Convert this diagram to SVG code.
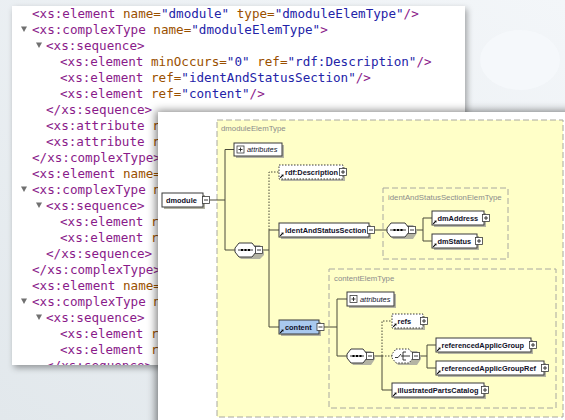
<svg xmlns="http://www.w3.org/2000/svg" width="565" height="420" viewBox="0 0 565 420">
<defs>
<linearGradient id="bg" x1="1" y1="0" x2="0" y2="1">
<stop offset="0" stop-color="#f3f6f9"/>
<stop offset="1" stop-color="#e2e8ec"/>
</linearGradient>
<filter id="sh1" x="-10%" y="-10%" width="120%" height="120%"><feDropShadow dx="2" dy="3" stdDeviation="3" flood-color="#000" flood-opacity="0.35"/></filter>
<filter id="sh2" x="-10%" y="-10%" width="120%" height="120%"><feDropShadow dx="-2" dy="-1" stdDeviation="4" flood-color="#000" flood-opacity="0.5"/></filter>
<clipPath id="codeclip"><rect x="12" y="6" width="453" height="359"/></clipPath>
<g id="ra"><path d="M1.2 -1.2L3.6 -3.6" stroke="#000" stroke-width="1.1" fill="none"/><polygon points="4.6,-4.6 2.2,-4.3 4.3,-2.2" fill="#000"/></g>
<style>
.code{font-family:"DejaVu Sans Mono","Liberation Mono",monospace;font-size:12.6px;white-space:pre}
.t{fill:#8a1a8a}.a{fill:#9a5000}.v{fill:#2323a8}
.tri{fill:#707070}
.type{fill:#ffffc8;stroke:#a8a8a0;stroke-width:1;stroke-dasharray:6,3}
.tlabel{font-family:"Liberation Sans",Arial,sans-serif;font-size:7.8px;fill:#8c8c8c}
.el{fill:#fff;stroke:#3a3a3a;stroke-width:1}
.opt{fill:#fff;stroke:#3a3a3a;stroke-width:1;stroke-dasharray:1.5,1.5}
.shd{fill:#b4b4a4}
.lbl{font-family:"Liberation Sans",Arial,sans-serif;font-size:7.4px;font-weight:bold;fill:#101028}
.it{font-family:"Liberation Sans",Arial,sans-serif;font-size:7.4px;font-style:italic;fill:#101028}
.ic{fill:#fff;stroke:#3a3a3a;stroke-width:0.8}
.icl{stroke:#222;stroke-width:0.9;fill:none}
.con{fill:none;stroke:#4a4a3a;stroke-width:1}
.dot{fill:none;stroke:#4a4a3a;stroke-width:1;stroke-dasharray:1.5,1.5}
.comp{fill:#fff;stroke:#3a3a3a;stroke-width:1}
.compo{fill:#fff;stroke:#3a3a3a;stroke-width:1;stroke-dasharray:1.5,1.5}
</style>
</defs>
<rect width="565" height="420" fill="url(#bg)"/>
<ellipse cx="520" cy="60" rx="40" ry="30" fill="#f7fafc" opacity="0.7"/>
<path d="M250 420 L330 330" stroke="#f0f4f6" stroke-width="6" opacity="0.8"/>

<g id="code-panel">
<rect x="12" y="6" width="453" height="359" fill="#fff" filter="url(#sh1)"/>
<g clip-path="url(#codeclip)" class="code">
<text x="32" y="18"><tspan class="t">&lt;xs:element</tspan><tspan class="a"> name=</tspan><tspan class="v">"dmodule"</tspan><tspan class="a"> type=</tspan><tspan class="v">"dmoduleElemType"</tspan><tspan class="t">/&gt;</tspan></text>
<polygon class="tri" points="21,26.5 27,26.5 24,32"/>
<text x="32" y="34"><tspan class="t">&lt;xs:complexType</tspan><tspan class="a"> name=</tspan><tspan class="v">"dmoduleElemType"</tspan><tspan class="t">&gt;</tspan></text>
<polygon class="tri" points="36,42.5 42,42.5 39,48"/>
<text x="46" y="50" class="t">&lt;xs:sequence&gt;</text>
<text x="60" y="66"><tspan class="t">&lt;xs:element</tspan><tspan class="a"> minOccurs=</tspan><tspan class="v">"0"</tspan><tspan class="a"> ref=</tspan><tspan class="v">"rdf:Description"</tspan><tspan class="t">/&gt;</tspan></text>
<text x="60" y="82"><tspan class="t">&lt;xs:element</tspan><tspan class="a"> ref=</tspan><tspan class="v">"identAndStatusSection"</tspan><tspan class="t">/&gt;</tspan></text>
<text x="60" y="98"><tspan class="t">&lt;xs:element</tspan><tspan class="a"> ref=</tspan><tspan class="v">"content"</tspan><tspan class="t">/&gt;</tspan></text>
<text x="46" y="114" class="t">&lt;/xs:sequence&gt;</text>
<text x="46" y="130"><tspan class="t">&lt;xs:attribute</tspan><tspan class="a"> r</tspan></text>
<text x="46" y="146"><tspan class="t">&lt;xs:attribute</tspan><tspan class="a"> r</tspan></text>
<text x="32" y="162" class="t">&lt;/xs:complexType&gt;</text>
<text x="32" y="178"><tspan class="t">&lt;xs:element</tspan><tspan class="a"> name=</tspan></text>
<polygon class="tri" points="21,186.5 27,186.5 24,192"/>
<text x="32" y="194"><tspan class="t">&lt;xs:complexType</tspan><tspan class="a"> n</tspan></text>
<polygon class="tri" points="36,202.5 42,202.5 39,208"/>
<text x="46" y="210" class="t">&lt;xs:sequence&gt;</text>
<text x="60" y="226"><tspan class="t">&lt;xs:element</tspan><tspan class="a"> r</tspan></text>
<text x="60" y="242"><tspan class="t">&lt;xs:element</tspan><tspan class="a"> r</tspan></text>
<text x="46" y="258" class="t">&lt;/xs:sequence&gt;</text>
<text x="32" y="274" class="t">&lt;/xs:complexType&gt;</text>
<text x="32" y="290"><tspan class="t">&lt;xs:element</tspan><tspan class="a"> name=</tspan></text>
<polygon class="tri" points="21,298.5 27,298.5 24,304"/>
<text x="32" y="306"><tspan class="t">&lt;xs:complexType</tspan><tspan class="a"> n</tspan></text>
<polygon class="tri" points="36,314.5 42,314.5 39,320"/>
<text x="46" y="322" class="t">&lt;xs:sequence&gt;</text>
<text x="60" y="338"><tspan class="t">&lt;xs:element</tspan><tspan class="a"> r</tspan></text>
<text x="60" y="354"><tspan class="t">&lt;xs:element</tspan><tspan class="a"> r</tspan></text>
<text x="46" y="370" class="t">&lt;/xs:sequence&gt;</text>
</g>
</g>

<g id="diagram-panel">
<rect x="158" y="112" width="420" height="320" fill="#fff" filter="url(#sh2)"/>
</g>

<g id="dmoduleElemType">
<rect class="type" x="217" y="120" width="346" height="297"/>
<text class="tlabel" x="221" y="131">dmoduleElemType</text>
</g>
<g id="identAndStatusSectionElemType">
<rect class="type" x="383" y="188" width="125" height="71"/>
<text class="tlabel" x="388" y="199.5">identAndStatusSectionElemType</text>
</g>
<g id="contentElemType">
<rect class="type" x="329" y="269" width="227" height="139"/>
<text class="tlabel" x="334" y="280.5">contentElemType</text>
</g>

<g id="connectors">
<path class="con" d="M209.5 200H225M225 149.5V250M225 149.5H234M225 250H235"/>
<path class="con" d="M262.5 250H269M269 230V327M269 230H279M269 327H279"/>
<path class="dot" d="M269 230V172H279"/>
<path class="con" d="M374.5 230H387M415.5 230H423M423 218V241M423 218H432M423 241H432"/>
<path class="con" d="M324 327H337M337 299V356M337 299H347M337 356H347"/>
<path class="con" d="M373.5 356H382M382 356V390H392"/>
<path class="dot" d="M382 356V321H392M382 356H392"/>
<path class="con" d="M419.5 356H427M427 345V368M427 345H436M427 368H436"/>
</g>

<g id="dmodule">
<rect class="shd" x="164" y="195" width="41" height="14"/>
<rect class="el" x="162" y="193" width="41" height="14"/>
<text class="lbl" x="166" y="202.6">dmodule</text>
<rect class="ic" x="202.5" y="196.5" width="7" height="7"/><path class="icl" d="M204 200H208"/>
</g>

<g id="attributes1">
<rect class="shd" x="236" y="145" width="48" height="13"/>
<rect class="el" x="234" y="143" width="48" height="13"/>
<rect class="ic" x="237" y="146" width="7" height="7"/><path class="icl" d="M238.5 149.5H242.5M240.5 147.5V151.5"/>
<text class="it" x="247" y="152.2">attributes</text>
</g>

<g id="sequence1">
<path class="shd" d="M241 245H260L264 252V255L260 259H241L237 255V252Z"/>
<path class="comp" d="M239 243H252L256 248V252L252 257H239L235 252V248Z"/>
<path class="icl" d="M238 250H253"/><rect x="241" y="249" width="2" height="2" fill="#000"/><rect x="244.5" y="249" width="2" height="2" fill="#000"/><rect x="248" y="249" width="2" height="2" fill="#000"/>
<rect class="ic" x="255.5" y="246.5" width="7" height="7"/><path class="icl" d="M257 250H261"/>
</g>

<g id="rdfDescription">
<rect class="shd" x="281" y="167" width="64" height="14"/>
<rect class="opt" x="279" y="165" width="64" height="14"/>
<text class="lbl" x="285" y="174.6">rdf:Description</text>
<use href="#ra" x="279" y="179"/>
<rect class="ic" x="339.5" y="168.5" width="7" height="7"/><path class="icl" d="M341 172H345M343 170V174"/>
</g>

<g id="identAndStatusSection">
<rect class="shd" x="281" y="225" width="90" height="14"/>
<rect class="el" x="279" y="223" width="90" height="14"/>
<text class="lbl" x="285" y="232.6">identAndStatusSection</text>
<use href="#ra" x="279" y="237"/>
<rect class="ic" x="367.5" y="226.5" width="7" height="7"/><path class="icl" d="M369 230H373"/>
</g>

<g id="sequence2">
<path class="shd" d="M393 225H413L417 230V233L413 239H393L389 233V230Z"/>
<path class="comp" d="M391 223H405L409 228V232L405 237H391L387 232V228Z"/>
<path class="icl" d="M390 230H406"/><rect x="393.5" y="229" width="2" height="2" fill="#000"/><rect x="397" y="229" width="2" height="2" fill="#000"/><rect x="400.5" y="229" width="2" height="2" fill="#000"/>
<rect class="ic" x="408.5" y="226.5" width="7" height="7"/><path class="icl" d="M410 230H414"/>
</g>

<g id="dmAddress">
<rect class="shd" x="434" y="213" width="52" height="14"/>
<rect class="el" x="432" y="211" width="52" height="14"/>
<text class="lbl" x="437.5" y="220.6">dmAddress</text>
<use href="#ra" x="432" y="225"/>
<rect class="ic" x="482.5" y="214.5" width="7" height="7"/><path class="icl" d="M484 218H488M486 216V220"/>
</g>

<g id="dmStatus">
<rect class="shd" x="434" y="236" width="45" height="14"/>
<rect class="el" x="432" y="234" width="45" height="14"/>
<text class="lbl" x="437.5" y="243.6">dmStatus</text>
<use href="#ra" x="432" y="248"/>
<rect class="ic" x="475.5" y="237.5" width="7" height="7"/><path class="icl" d="M477 241H481M479 239V243"/>
</g>

<g id="content">
<rect class="shd" x="281" y="322" width="40" height="14"/>
<rect x="279" y="320" width="40" height="14" fill="#a9c9ef" stroke="#3a3a3a"/>
<text class="lbl" x="285" y="329.6">content</text>
<use href="#ra" x="279" y="334"/>
<rect class="ic" x="317" y="323.5" width="7" height="7"/><path class="icl" d="M318.5 327H322.5"/>
</g>

<g id="attributes2">
<rect class="shd" x="349" y="294" width="47" height="14"/>
<rect class="el" x="347" y="292" width="47" height="14"/>
<rect class="ic" x="350" y="295.5" width="7" height="7"/><path class="icl" d="M351.5 299H355.5M353.5 297V301"/>
<text class="it" x="360" y="301.6">attributes</text>
</g>

<g id="sequence3">
<path class="shd" d="M353 351H371L375 356V359L371 365H353L349 359V356Z"/>
<path class="comp" d="M351 349H363L367 354V358L363 363H351L347 358V354Z"/>
<path class="icl" d="M350 356H364"/><rect x="352.5" y="355" width="2" height="2" fill="#000"/><rect x="356" y="355" width="2" height="2" fill="#000"/><rect x="359.5" y="355" width="2" height="2" fill="#000"/>
<rect class="ic" x="366.5" y="352.5" width="7" height="7"/><path class="icl" d="M368 356H372"/>
</g>

<g id="refs">
<rect class="shd" x="394" y="316" width="31" height="14"/>
<rect class="opt" x="392" y="314" width="31" height="14"/>
<text class="lbl" x="397.5" y="323.6">refs</text>
<use href="#ra" x="392" y="328"/>
<rect class="ic" x="420.5" y="317.5" width="7" height="7"/><path class="icl" d="M422 321H426M424 319V323"/>
</g>

<g id="choice">
<path class="shd" d="M398 351H417L421 356V359L417 365H398L394 359V356Z"/>
<path class="compo" d="M396 349H409L413 354V358L409 363H396L392 358V354Z"/>
<path class="icl" d="M395 357.5H398L401 354M401 356H403M403 352V360M403 352H406M403 356H406M403 360H406M406 356H410"/>
<rect class="ic" x="412.5" y="352.5" width="7" height="7"/><path class="icl" d="M414 356H418"/>
</g>

<g id="referencedApplicGroup">
<rect class="shd" x="438" y="340" width="95" height="14"/>
<rect class="el" x="436" y="338" width="95" height="14"/>
<text class="lbl" x="441.5" y="347.6">referencedApplicGroup</text>
<use href="#ra" x="436" y="352"/>
<rect class="ic" x="529.5" y="341.5" width="7" height="7"/><path class="icl" d="M531 345H535M533 343V347"/>
</g>

<g id="referencedApplicGroupRef">
<rect class="shd" x="438" y="363" width="108" height="14"/>
<rect class="el" x="436" y="361" width="108" height="14"/>
<text class="lbl" x="441.5" y="370.6">referencedApplicGroupRef</text>
<use href="#ra" x="436" y="375"/>
<rect class="ic" x="541.5" y="364.5" width="7" height="7"/><path class="icl" d="M543 368H547M545 366V370"/>
</g>

<g id="illustratedPartsCatalog">
<rect class="shd" x="394" y="385" width="92" height="14"/>
<rect class="el" x="392" y="383" width="92" height="14"/>
<text class="lbl" x="397.5" y="392.6">illustratedPartsCatalog</text>
<use href="#ra" x="392" y="397"/>
<rect class="ic" x="481.5" y="386.5" width="7" height="7"/><path class="icl" d="M483 390H487M485 388V392"/>
</g>
</svg>
